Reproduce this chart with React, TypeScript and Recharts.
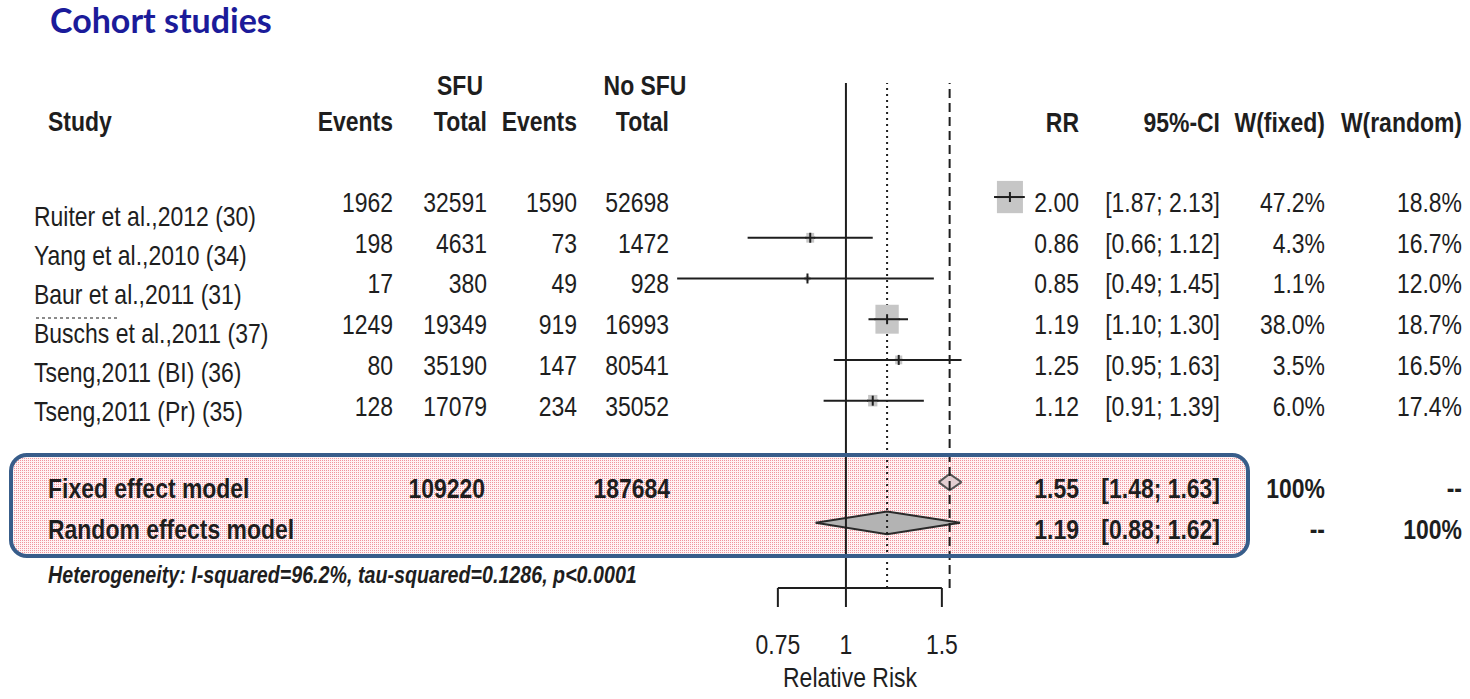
import React from 'react';
import { ComposedChart, Scatter, Area, XAxis, YAxis, ReferenceLine, ErrorBar } from 'recharts';

// study table
const studies = [
  'Ruiter et al.,2012 (30)',
  'Yang et al.,2010 (34)',
  'Baur et al.,2011 (31)',
  'Buschs et al.,2011 (37)',
  'Tseng,2011 (BI) (36)',
  'Tseng,2011 (Pr) (35)',
];
const sfuEvents = [1962, 198, 17, 1249, 80, 128];
const sfuTotal = [32591, 4631, 380, 19349, 35190, 17079];
const noSfuEvents = [1590, 73, 49, 919, 147, 234];
const noSfuTotal = [52698, 1472, 928, 16993, 80541, 35052];
const rr = [2.0, 0.86, 0.85, 1.19, 1.25, 1.12];
const ciLow = [1.87, 0.66, 0.49, 1.1, 0.95, 0.91];
const ciHigh = [2.13, 1.12, 1.45, 1.3, 1.63, 1.39];
const wFixed = [47.2, 4.3, 1.1, 38.0, 3.5, 6.0];
const wRandom = [18.8, 16.7, 12.0, 18.7, 16.5, 17.4];

// pooled estimates
const pooledModels = ['Fixed effect model', 'Random effects model'];
const pooledSfuTotal = 109220;
const pooledNoSfuTotal = 187684;
const pooledRR = [1.55, 1.19];
const pooledLow = [1.48, 0.88];
const pooledHigh = [1.63, 1.62];

const axisTicks = [0.75, 1, 1.5];

const W = 1470;
const H = 699;
const PLOT_TOP = 83;
const PLOT_BOTTOM = 588;
const PLOT_LEFT = 657;
const PLOT_RIGHT = 1043;
const X_DOMAIN: [number, number] = [0.45, 2.3];
const Y_DOMAIN: [number, number] = [-2.8, 9.6];
const POOLED_ROW = 7;
const DIAMOND_HALF = [0.2, 0.28];

// Arial Narrow look: Liberation Sans squeezed horizontally
const SANS = "'Liberation Sans', Arial, sans-serif";
const SQUEEZE = 0.82;
const INK = '#1e1e1e';

const rowY = (r: number) =>
  PLOT_TOP + ((r - Y_DOMAIN[0]) / (Y_DOMAIN[1] - Y_DOMAIN[0])) * (PLOT_BOTTOM - PLOT_TOP);

const studyPoints = studies.map((name, i) => ({
  name,
  x: rr[i],
  y: i,
  wf: wFixed[i],
  err: [rr[i] - ciLow[i], ciHigh[i] - rr[i]],
}));

// each pooled diamond: low end, estimate (top/bottom), high end
const diamondData = pooledModels.flatMap((_, k) => {
  const r = POOLED_ROW + k;
  const h = DIAMOND_HALF[k];
  const key = k === 0 ? 'fixedBand' : 'randomBand';
  return [
    { x: pooledLow[k], [key]: [r, r] },
    { x: pooledRR[k], [key]: [r - h, r + h] },
    { x: pooledHigh[k], [key]: [r, r] },
  ];
});

// grey box sized by fixed-effect weight, with the CI line redrawn across it
const StudySquare = (props: any) => {
  const { cx, cy, payload } = props;
  const side = 26 * Math.sqrt(payload.wf / 47.2);
  return (
    <g>
      <rect x={cx - side / 2} y={cy - side * 0.62} width={side} height={side * 1.24} fill="#c6c6c6" />
      <line x1={cx - side / 2 - 1} x2={cx + side / 2 + 1} y1={cy} y2={cy} stroke={INK} strokeWidth={2} />
    </g>
  );
};

const EstimateTick = (props: any) => {
  const { cx, cy } = props;
  return <line x1={cx} x2={cx} y1={cy - 5} y2={cy + 5} stroke={INK} strokeWidth={2} />;
};

const AxisTick = (props: any) => {
  const { x, y, payload } = props;
  return (
    <text
      transform={`translate(${x},${y + 21}) scale(${SQUEEZE},1)`}
      textAnchor="middle"
      fontFamily={SANS}
      fontSize={28}
      fill={INK}
    >
      {payload.value}
    </text>
  );
};

type NTextProps = {
  x: number;
  y: number;
  anchor?: 'start' | 'middle' | 'end';
  size?: number;
  bold?: boolean;
  italic?: boolean;
  children: React.ReactNode;
};

const NText = ({ x, y, anchor = 'start', size = 28, bold = false, italic = false, children }: NTextProps) => (
  <text
    transform={`translate(${x},${y}) scale(${SQUEEZE},1)`}
    textAnchor={anchor}
    fontSize={size}
    fontWeight={bold ? 700 : 400}
    fontStyle={italic ? 'italic' : 'normal'}
  >
    {children}
  </text>
);

const fmt2 = (v: number) => v.toFixed(2);
const pct = (v: number) => `${v.toFixed(1)}%`;

const BOX = { x: 11, y: 455, w: 1237, h: 101, r: 16 };

export default function App() {
  const numY = (i: number) => rowY(i) + 15;
  const nameY = (i: number) => 226 + i * 39;
  const pooledY = (k: number) => rowY(POOLED_ROW + k) + 16;

  return (
    <div style={{ position: 'relative', width: W, height: H, background: '#fff' }}>
      <style>{'body{margin:0}'}</style>

      {/* shaded band behind the pooled rows */}
      <svg width={W} height={H} style={{ position: 'absolute', left: 0, top: 0 }}>
        <defs>
          <pattern id="pinkDots" width="2" height="2" patternUnits="userSpaceOnUse">
            <rect width="2" height="2" fill="#fff3f4" />
            <rect width="1" height="1" fill="#f0949d" />
          </pattern>
        </defs>
        <rect x={BOX.x} y={BOX.y} width={BOX.w} height={BOX.h} rx={BOX.r} fill="url(#pinkDots)" />
      </svg>

      <div style={{ position: 'absolute', left: 0, top: 0 }}>
        <ComposedChart
          width={W}
          height={H}
          data={diamondData}
          margin={{ top: PLOT_TOP, right: W - PLOT_RIGHT, bottom: 0, left: PLOT_LEFT }}
        >
          <XAxis
            dataKey="x"
            type="number"
            scale="log"
            domain={X_DOMAIN}
            allowDataOverflow
            ticks={axisTicks}
            interval={0}
            height={H - PLOT_BOTTOM}
            axisLine={false}
            tickSize={19}
            tickMargin={26}
            tickLine={{ stroke: INK, strokeWidth: 2 }}
            tick={<AxisTick />}
          />
          <YAxis type="number" dataKey="y" domain={Y_DOMAIN} reversed hide width={0} allowDataOverflow />

          <ReferenceLine x={1} stroke={INK} strokeWidth={2} ifOverflow="visible" />
          <ReferenceLine x={pooledRR[1]} stroke={INK} strokeWidth={2} strokeDasharray="2 4" ifOverflow="visible" />
          <ReferenceLine x={pooledRR[0]} stroke={INK} strokeWidth={2} strokeDasharray="9 5" ifOverflow="visible" />
          <ReferenceLine
            segment={[
              { x: axisTicks[0], y: Y_DOMAIN[1] },
              { x: axisTicks[axisTicks.length - 1], y: Y_DOMAIN[1] },
            ]}
            stroke={INK}
            strokeWidth={2}
            ifOverflow="visible"
          />

          <Scatter data={studyPoints} dataKey="y" shape={StudySquare} isAnimationActive={false} />
          <Scatter data={studyPoints} dataKey="y" shape={EstimateTick} isAnimationActive={false}>
            <ErrorBar dataKey="err" direction="x" width={0} stroke={INK} strokeWidth={2} />
          </Scatter>

          <Area
            dataKey="fixedBand"
            type="linear"
            stroke="#555"
            strokeWidth={2}
            fill="#e4cfd2"
            fillOpacity={1}
            dot={false}
            activeDot={false}
            isAnimationActive={false}
          />
          <Area
            dataKey="randomBand"
            type="linear"
            stroke="#2a2a2a"
            strokeWidth={2}
            fill="#b3b3b3"
            fillOpacity={1}
            dot={false}
            activeDot={false}
            isAnimationActive={false}
          />
        </ComposedChart>
      </div>

      {/* table text and frame */}
      <svg width={W} height={H} style={{ position: 'absolute', left: 0, top: 0, pointerEvents: 'none' }}>
        <text x={50} y={33} fontFamily="Lato, 'Open Sans', sans-serif" fontWeight={700} fontSize={34} fill="#1b1b9a">
          Cohort studies
        </text>

        <g fontFamily={SANS} fill={INK}>
          <NText x={48} y={131} bold>Study</NText>
          <NText x={460} y={95} anchor="middle" bold>SFU</NText>
          <NText x={645} y={95} anchor="middle" bold>No SFU</NText>
          <NText x={393} y={131} anchor="end" bold>Events</NText>
          <NText x={487} y={131} anchor="end" bold>Total</NText>
          <NText x={577} y={131} anchor="end" bold>Events</NText>
          <NText x={669} y={131} anchor="end" bold>Total</NText>
          <NText x={1079} y={132} anchor="end" bold>RR</NText>
          <NText x={1220} y={132} anchor="end" bold>95%-CI</NText>
          <NText x={1325} y={132} anchor="end" bold>W(fixed)</NText>
          <NText x={1462} y={132} anchor="end" bold>W(random)</NText>

          {studies.map((name, i) => (
            <g key={name}>
              <NText x={34} y={nameY(i)}>{name}</NText>
              <NText x={393} y={numY(i)} anchor="end">{sfuEvents[i]}</NText>
              <NText x={487} y={numY(i)} anchor="end">{sfuTotal[i]}</NText>
              <NText x={577} y={numY(i)} anchor="end">{noSfuEvents[i]}</NText>
              <NText x={669} y={numY(i)} anchor="end">{noSfuTotal[i]}</NText>
              <NText x={1079} y={numY(i)} anchor="end">{fmt2(rr[i])}</NText>
              <NText x={1220} y={numY(i)} anchor="end">{`[${fmt2(ciLow[i])}; ${fmt2(ciHigh[i])}]`}</NText>
              <NText x={1325} y={numY(i)} anchor="end">{pct(wFixed[i])}</NText>
              <NText x={1462} y={numY(i)} anchor="end">{pct(wRandom[i])}</NText>
            </g>
          ))}
          <line x1={36} x2={120} y1={318} y2={318} stroke="#666" strokeWidth={1.5} strokeDasharray="3 3" />

          {pooledModels.map((m, k) => (
            <g key={m}>
              <NText x={48} y={pooledY(k)} bold>{m}</NText>
              <NText x={1079} y={pooledY(k)} anchor="end" bold>{fmt2(pooledRR[k])}</NText>
              <NText x={1220} y={pooledY(k)} anchor="end" bold>{`[${fmt2(pooledLow[k])}; ${fmt2(pooledHigh[k])}]`}</NText>
              <NText x={1325} y={pooledY(k)} anchor="end" bold>{k === 0 ? '100%' : '--'}</NText>
              <NText x={1462} y={pooledY(k)} anchor="end" bold>{k === 0 ? '--' : '100%'}</NText>
            </g>
          ))}
          <NText x={485} y={pooledY(0)} anchor="end" bold>{pooledSfuTotal}</NText>
          <NText x={670} y={pooledY(0)} anchor="end" bold>{pooledNoSfuTotal}</NText>

          <NText x={48} y={583} size={24} bold italic>
            Heterogeneity: I-squared=96.2%, tau-squared=0.1286, p&lt;0.0001
          </NText>

          <NText x={850} y={687} anchor="middle">Relative Risk</NText>
        </g>

        <rect x={BOX.x} y={BOX.y} width={BOX.w} height={BOX.h} rx={BOX.r} fill="none" stroke="#385d8a" strokeWidth={4} />
      </svg>
    </div>
  );
}
